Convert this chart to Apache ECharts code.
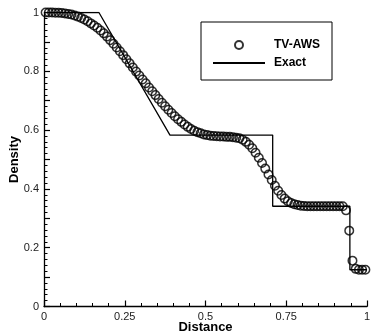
<!DOCTYPE html>
<html>
<head>
<meta charset="utf-8">
<script src="https://cdn.jsdelivr.net/npm/echarts@6/dist/echarts.min.js"></script>
<style>
  html, body { margin: 0; padding: 0; background: #fff; }
  #chart { width: 371px; height: 333px; }
</style>
</head>
<body>
<div id="chart"></div>
<script>
// numerical solution (TV-AWS), cell centres and density
const awsX = [
  0.005, 0.015, 0.025, 0.035, 0.045, 0.055, 0.065, 0.075, 0.085, 0.095,
  0.105, 0.115, 0.125, 0.135, 0.145, 0.155, 0.165, 0.175, 0.185, 0.195,
  0.205, 0.215, 0.225, 0.235, 0.245, 0.255, 0.265, 0.275, 0.285, 0.295,
  0.305, 0.315, 0.325, 0.335, 0.345, 0.355, 0.365, 0.375, 0.385, 0.395,
  0.405, 0.415, 0.425, 0.435, 0.445, 0.455, 0.465, 0.475, 0.485, 0.495,
  0.505, 0.515, 0.525, 0.535, 0.545, 0.555, 0.565, 0.575, 0.585, 0.595,
  0.605, 0.615, 0.625, 0.635, 0.645, 0.655, 0.665, 0.675, 0.685, 0.695,
  0.705, 0.715, 0.725, 0.735, 0.745, 0.755, 0.765, 0.775, 0.785, 0.795,
  0.805, 0.815, 0.825, 0.835, 0.845, 0.855, 0.865, 0.875, 0.885, 0.895,
  0.905, 0.915, 0.925, 0.935, 0.945, 0.955, 0.965, 0.975, 0.985, 0.995
]
const awsDensity = [
  1.000, 1.000, 1.000, 0.999, 0.999, 0.998, 0.997, 0.995, 0.993, 0.990,
  0.986, 0.981, 0.976, 0.970, 0.963, 0.956, 0.948, 0.939, 0.929, 0.918,
  0.906, 0.894, 0.881, 0.868, 0.855, 0.841, 0.827, 0.813, 0.799, 0.786,
  0.772, 0.759, 0.745, 0.732, 0.719, 0.706, 0.693, 0.681, 0.669, 0.658,
  0.647, 0.637, 0.628, 0.619, 0.611, 0.604, 0.598, 0.593, 0.589, 0.585,
  0.583, 0.581, 0.580, 0.579, 0.578, 0.578, 0.577, 0.577, 0.576, 0.574,
  0.572, 0.567, 0.560, 0.550, 0.538, 0.523, 0.506, 0.488, 0.469, 0.449,
  0.430, 0.411, 0.394, 0.379, 0.367, 0.358, 0.352, 0.348, 0.345, 0.343,
  0.342, 0.341, 0.341, 0.341, 0.341, 0.341, 0.341, 0.341, 0.341, 0.341,
  0.341, 0.341, 0.341, 0.327, 0.258, 0.156, 0.128, 0.125, 0.125, 0.125
]
// exact solution corner points
const exactX = [0, 0.17, 0.39, 0.708, 0.708, 0.947, 0.947, 1]
const exactDensity = [1, 1, 0.583, 0.583, 0.341, 0.341, 0.125, 0.125]

const font = 'Liberation Sans, Arial, Helvetica, sans-serif'

const chart = echarts.init(document.getElementById('chart'), null, { renderer: 'canvas' })

const axisCommon = {
  type: 'value',
  min: 0,
  max: 1,
  splitLine: { show: false },
  axisLine: { show: true, onZero: false, lineStyle: { color: '#000', width: 1.3 } },
  axisTick: { show: true, inside: true, length: 6, lineStyle: { color: '#000', width: 1.2 } },
  minorTick: { show: true, splitNumber: 5, length: 3.5, lineStyle: { color: '#000', width: 1 } },
  axisLabel: { color: '#222', fontSize: 11, fontFamily: font },
  nameLocation: 'middle',
  nameMoveOverlap: false,
  nameTextStyle: { color: '#000', fontSize: 13, fontWeight: 'bold', fontFamily: font }
}

chart.setOption({
  animation: false,
  backgroundColor: '#fff',
  grid: { left: 44, right: 4, top: 12.5, bottom: 26.5, containLabel: false, outerBoundsMode: 'none' },
  legend: {
    left: 201,
    top: 22,
    orient: 'vertical',
    padding: [17, 12, 11, 11],
    itemGap: 6,
    itemWidth: 52,
    itemHeight: 8,
    borderColor: '#000',
    borderWidth: 1,
    borderRadius: 0,
    textStyle: { color: '#000', fontSize: 12, fontWeight: 'bold', fontFamily: font, padding: [0, 0, 0, 4] },
    data: [
      'TV-AWS',
      { name: 'Exact', itemStyle: { opacity: 0, color: 'rgba(0,0,0,0)', borderWidth: 0 } }
    ]
  },
  xAxis: Object.assign({}, axisCommon, {
    interval: 0.25,
    name: 'Distance',
    nameGap: 14,
    axisLabel: Object.assign({}, axisCommon.axisLabel, { margin: 5 })
  }),
  yAxis: Object.assign({}, axisCommon, {
    interval: 0.1,
    name: 'Density',
    nameGap: 23,
    axisLabel: Object.assign({}, axisCommon.axisLabel, {
      margin: 5,
      formatter: (v) => (Math.round(v * 10) % 2 === 0 ? String(Math.round(v * 10) / 10) : '')
    })
  }),
  series: [
    {
      name: 'TV-AWS',
      type: 'scatter',
      symbol: 'circle',
      symbolSize: 8.5,
      itemStyle: { color: 'rgba(0,0,0,0)', borderColor: '#000', borderWidth: 1.5 },
      data: awsX.map((x, i) => [x, awsDensity[i]]),
      z: 3
    },
    {
      name: 'Exact',
      type: 'line',
      symbol: 'none',
      lineStyle: { color: '#000', width: 1.3 },
      itemStyle: { color: '#000' },
      data: exactX.map((x, i) => [x, exactDensity[i]]),
      z: 2
    }
  ]
})
</script>
</body>
</html>
